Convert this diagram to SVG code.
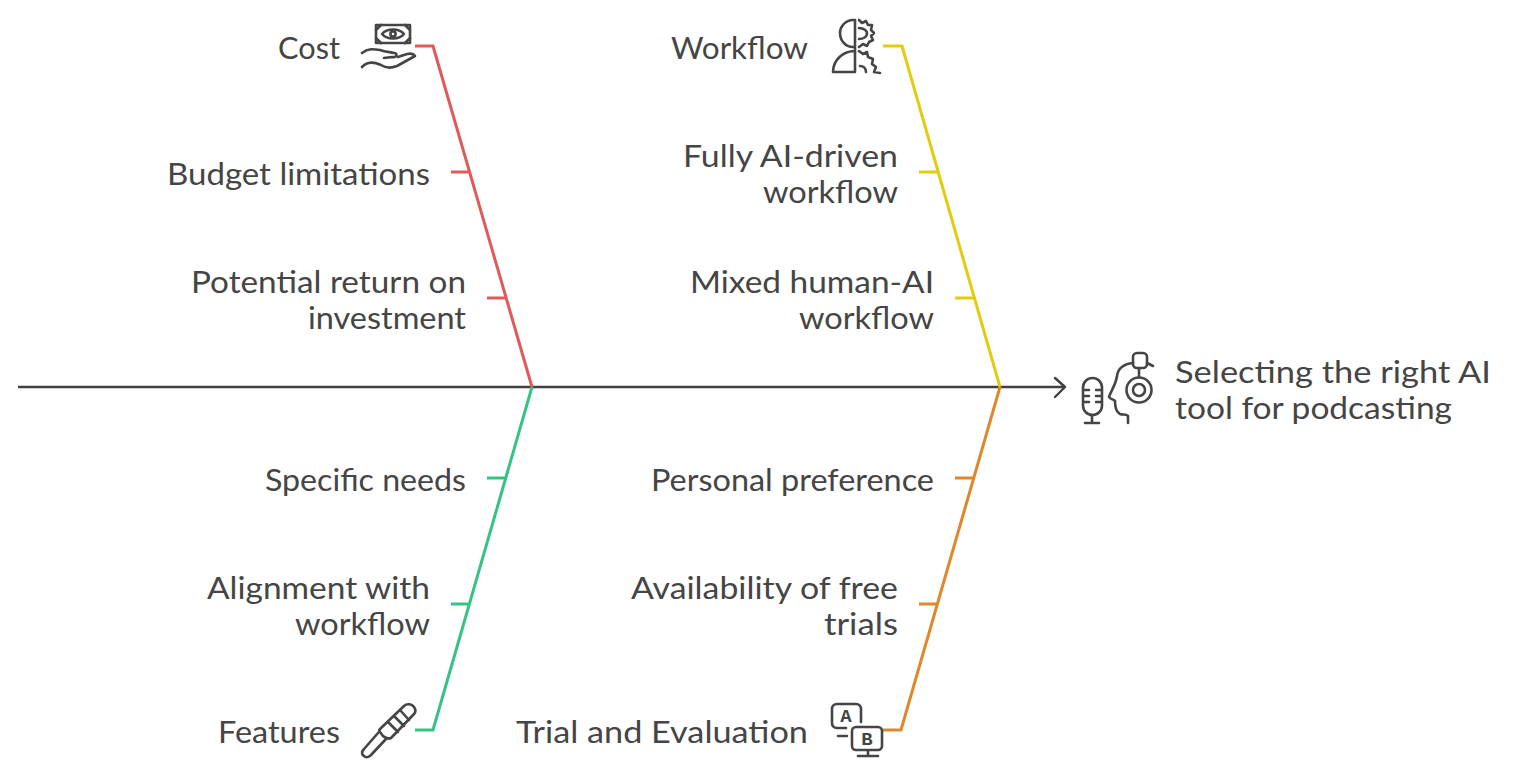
<svg xmlns="http://www.w3.org/2000/svg" width="1532" height="777" viewBox="0 0 1532 777">
<style>
text{font-family:"Lato","Open Sans",sans-serif;font-size:30px;fill:#454545;lengthAdjust:spacingAndGlyphs}
.e{text-anchor:end}
.c{fill:none;stroke-width:3;stroke-linejoin:miter}
.i{fill:none;stroke:#454545;stroke-width:2.6;stroke-linecap:round;stroke-linejoin:round}
.g{font-family:"Liberation Mono",monospace;font-size:19px;font-weight:700;text-anchor:middle}
</style>
<rect width="1532" height="777" fill="#fff"/>
<g id="connectors">
<path d="M18 387H1065" fill="none" stroke="#404040" stroke-width="2.4"/>
<path d="M1055 378L1065 387L1055 397" fill="none" stroke="#404040" stroke-width="2.4" stroke-linecap="round" stroke-linejoin="round"/>
<path class="c" stroke="#e05a5a" d="M415 46H433L532 387M451 172H469M487 298H506"/>
<path class="c" stroke="#35c384" d="M532 387L433 730H415M487 478H506M451 604H469"/>
<path class="c" stroke="#e3cb0e" d="M883 46H902L1000 387M919 172H938M955 298H974"/>
<path class="c" stroke="#e0872c" d="M1000 387L901 730H883M955 478H974M919 604H938"/>
</g>
<g id="root"><text x="1175" y="383" textLength="316" lengthAdjust="spacingAndGlyphs">Selecting the right AI</text><text x="1175" y="419" textLength="277" lengthAdjust="spacingAndGlyphs">tool for podcasting</text>
<g class="i"><rect x="1083" y="378" width="19" height="37" rx="9.5"/><path d="M1092 415V423M1085 423H1099M1084 390H1089M1096 390H1101M1084 396H1089M1096 396H1101M1084 402H1089M1096 402H1101"/>
<path d="M1133 363C1124 364 1118 368 1117 376C1116 384 1111 391 1109 397C1110 399 1113 399 1115 401C1115 406 1116 412 1120 414C1123 415 1126 414 1128 416V423"/><rect x="1133" y="353" width="14" height="15" rx="4"/><path d="M1139 369V377M1147 363L1153 366"/><circle cx="1139" cy="390" r="12.5"/><circle cx="1139" cy="390" r="6"/></g></g>
<g id="cost"><text class="e" x="340" y="59" textLength="62" lengthAdjust="spacingAndGlyphs">Cost</text>
<g class="i"><rect x="376" y="25" width="34" height="18"/><path d="M382 34C387 28 399 28 404 34C399 40 387 40 382 34Z"/><circle cx="393" cy="34" r="2.6"/><path d="M376 30L381 25M410 30L405 25M376 38L381 43M410 38L405 43"/><path d="M362 53C368 48 374 49 380 50C386 52 390 52 394 53C398 53 397 58 392 57L384 58M362 67C368 61 374 62 381 65C387 69 392 68 397 66L415 56C413 53 409 53 404 55L398 57"/></g></g>
<g id="budget"><text class="e" x="430" y="185" textLength="263" lengthAdjust="spacingAndGlyphs">Budget limitations</text></g>
<g id="roi"><text class="e" x="466" y="293" textLength="275" lengthAdjust="spacingAndGlyphs">Potential return on</text><text class="e" x="466" y="329" textLength="158" lengthAdjust="spacingAndGlyphs">investment</text></g>
<g id="workflow"><text class="e" x="808" y="59" textLength="137" lengthAdjust="spacingAndGlyphs">Workflow</text>
<g class="i"><path d="M855 20H853C845 20 840 27 840 33C840 40 845 47 853 47H855ZM855 20V72M855 72H833C833 60 843 51 855 51"/><path d="M859 20L862 23L866 21L868 25L872 25L871 30L874 33L871 36L873 40L869 42L867 46L863 44L859 47M859 28C864 28 867 31 867 33C867 37 863 39 859 39M859 51L863 54L867 52L868 57L873 59L872 64L876 67L874 72L880 73M860 66C863 66 866 68 866 72"/></g></g>
<g id="aidriven"><text class="e" x="898" y="167" textLength="215" lengthAdjust="spacingAndGlyphs">Fully AI-driven</text><text class="e" x="898" y="203" textLength="135" lengthAdjust="spacingAndGlyphs">workflow</text></g>
<g id="mixed"><text class="e" x="934" y="293" textLength="244" lengthAdjust="spacingAndGlyphs">Mixed human-AI</text><text class="e" x="934" y="329" textLength="135" lengthAdjust="spacingAndGlyphs">workflow</text></g>
<g id="needs"><text class="e" x="466" y="491" textLength="201" lengthAdjust="spacingAndGlyphs">Specific needs</text></g>
<g id="alignment"><text class="e" x="430" y="599" textLength="223" lengthAdjust="spacingAndGlyphs">Alignment with</text><text class="e" x="430" y="635" textLength="135" lengthAdjust="spacingAndGlyphs">workflow</text></g>
<g id="features"><text class="e" x="340" y="743" textLength="122" lengthAdjust="spacingAndGlyphs">Features</text>
<g class="i"><path d="M380 729L404 706C407 703 412 704 414 707C416 710 416 712 414 714L391 738C389 739 385 738 383 736L380 732C379 731 379 730 380 729ZM388 722L398 732M394 716L404 726M400 710L409 720"/><path d="M378 733L364 749C361 752 362 755 364 756C366 758 369 757 371 755L386 739"/></g></g>
<g id="preference"><text class="e" x="934" y="491" textLength="283" lengthAdjust="spacingAndGlyphs">Personal preference</text></g>
<g id="trials"><text class="e" x="898" y="599" textLength="267" lengthAdjust="spacingAndGlyphs">Availability of free</text><text class="e" x="898" y="635" textLength="74" lengthAdjust="spacingAndGlyphs">trials</text></g>
<g id="trial"><text class="e" x="808" y="743" textLength="292" lengthAdjust="spacingAndGlyphs">Trial and Evaluation</text>
<g class="i"><path d="M861 722V709C861 706 859 704 856 704H837C834 704 832 706 832 709V723C832 726 834 728 837 728H846M838 736H847"/><rect x="852" y="727" width="30" height="23" rx="4"/><path d="M868 751V756M858 756H878"/></g>
<text class="g" x="846" y="722">A</text><text class="g" x="867" y="745">B</text></g>
</svg>
